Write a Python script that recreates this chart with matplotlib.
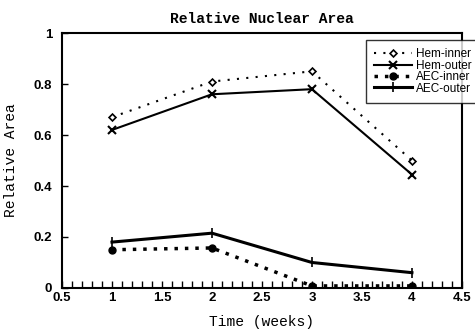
import matplotlib
matplotlib.use("Agg")
import matplotlib.pyplot as plt
from matplotlib.ticker import MultipleLocator

weeks = [1, 2, 3, 4]
hem_inner = [0.67, 0.81, 0.85, 0.50]
hem_outer = [0.62, 0.76, 0.78, 0.445]
aec_inner = [0.15, 0.157, 0.008, 0.008]
aec_outer = [0.18, 0.215, 0.10, 0.06]
labels = ["Hem-inner", "Hem-outer", "AEC-inner", "AEC-outer"]
xticks = [0.5, 1, 1.5, 2, 2.5, 3, 3.5, 4, 4.5]
yticks = [0, 0.2, 0.4, 0.6, 0.8, 1]

fig = plt.figure(figsize=(4.75, 3.31), dpi=100)
ax = fig.add_axes([0.1305, 0.13, 0.842, 0.770])

ax.plot(weeks, hem_inner, linestyle=(0, (1, 3.5)), color="black", lw=1.5,
        marker="D", markersize=3.5, markerfacecolor="white", markeredgewidth=1.2, label=labels[0])
ax.plot(weeks, hem_outer, linestyle="-", color="black", lw=1.5,
        marker="x", markersize=6, markeredgewidth=1.5, label=labels[1])
ax.plot(weeks, aec_inner, linestyle=(0, (1, 2)), color="black", lw=2.5,
        marker="o", markersize=5, label=labels[2])
ax.plot(weeks, aec_outer, linestyle="-", color="black", lw=2.2,
        marker="|", markersize=7, markeredgewidth=1.2, label=labels[3])

ax.set_xlim(0.5, 4.5)
ax.set_ylim(0, 1)
ax.set_xticks(xticks)
ax.set_xticklabels(["0.5", "1", "1.5", "2", "2.5", "3", "3.5", "4", "4.5"])
ax.set_yticks(yticks)
ax.set_yticklabels(["0", "0.2", "0.4", "0.6", "0.8", "1"])
ax.xaxis.set_minor_locator(MultipleLocator(0.1))
ax.tick_params(axis="both", which="both", direction="in", top=False, right=False,
               labelsize=9.5)
ax.tick_params(axis="x", which="both", length=5, width=1, pad=3)
ax.tick_params(axis="y", which="major", length=4, width=1, pad=7)
for lab in ax.get_xticklabels() + ax.get_yticklabels():
    lab.set_fontweight("bold")
    lab.set_family("Liberation Sans")
for s in ax.spines.values():
    s.set_linewidth(1.5)

ax.set_title("Relative Nuclear Area", family="Liberation Mono", fontweight="bold",
             fontsize=10.5, pad=7)
ax.set_xlabel("Time (weeks)", family="Liberation Mono", fontsize=10.5, labelpad=8)
ax.set_ylabel("Relative Area", family="Liberation Mono", fontsize=10.5, labelpad=11)

leg = fig.legend(loc="upper left", bbox_to_anchor=(0.771, 0.879),
                 prop={"family": "Liberation Sans", "size": 8.5},
                 frameon=True, fancybox=False, edgecolor="black",
                 labelspacing=-0.05, handlelength=3.2, handletextpad=0.3,
                 borderpad=0.7, borderaxespad=0)
leg.get_frame().set_linewidth(1.0)

fig.savefig("out.png", dpi=100)
